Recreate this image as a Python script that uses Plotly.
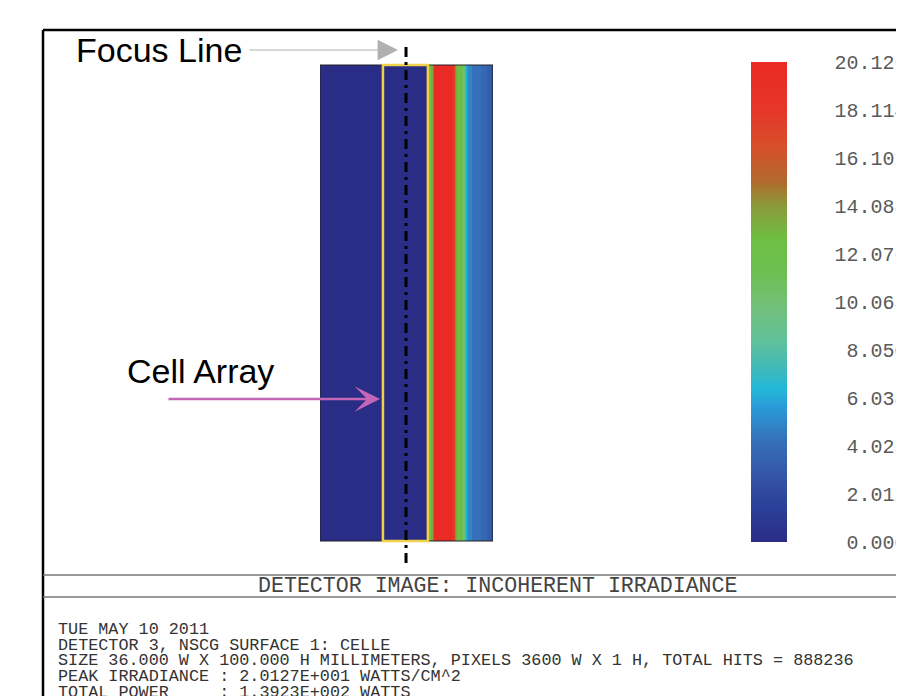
import plotly.graph_objects as go

# ---------------- data ----------------
# bin edges across the detector width (mm) and irradiance (W/cm^2) per bin
edges_mm = [-18.0, 4.37, 4.58, 4.78, 4.99, 5.20, 5.41, 5.62, 5.82, 6.03, 7.8,
            9.57, 9.78, 9.99, 10.19, 10.40, 10.61, 11.23, 11.86, 12.07, 12.27,
            12.48, 12.69, 12.90, 13.73, 15.40, 16.85, 17.48, 18.0]
irradiance = [0.0, 3.0, 9.0, 12.0, 12.5, 13.5, 15.5, 18.0, 19.5, 20.0, 20.1,
              19.0, 17.5, 16.0, 14.5, 13.5, 12.5, 11.5, 10.0, 8.5, 7.0, 6.3,
              5.6, 5.0, 4.2, 3.8, 3.2, 2.5]
height_edges_mm = [-50.0, 50.0]
peak_irradiance = 20.127
cell_array_mm = [-4.9, 4.45]
focus_line_mm = -0.1

cb_labels = ["0.000", "2.012", "4.025", "6.038", "8.050", "10.063", "12.076",
             "14.088", "16.101", "18.114", "20.126"]

title_text = "DETECTOR IMAGE: INCOHERENT IRRADIANCE"
info_lines = [
    "TUE MAY 10 2011",
    "DETECTOR 3, NSCG SURFACE 1: CELLE",
    "SIZE 36.000 W X 100.000 H MILLIMETERS, PIXELS 3600 W X 1 H, TOTAL HITS = 888236",
    "PEAK IRRADIANCE : 2.0127E+001 WATTS/CM^2",
    "TOTAL POWER     : 1.3923E+002 WATTS",
]

# ---------------- layout helpers ----------------
W, H = 904, 696
OFF = 8  # page body margin offset of the figure in the browser window
def px(x):
    return (x - OFF) / W
def py(y):
    return 1 - (y - OFF) / H

zemax = [
    [0.00, "#2a2d86"], [0.07, "#2b3f98"], [0.14, "#3556a8"], [0.21, "#3570b8"],
    [0.28, "#2a9ad8"], [0.32, "#22b8d8"], [0.35, "#3ab8c0"], [0.42, "#60c19a"],
    [0.49, "#72c07a"], [0.56, "#6cbf52"], [0.63, "#6ebf42"], [0.70, "#8a9a3a"],
    [0.75, "#b06a2c"], [0.82, "#d6502a"], [0.90, "#e6362a"], [1.00, "#ea2a25"],
]

mono = "Liberation Mono"

fig = go.Figure()
fig.add_trace(go.Heatmap(
    z=[irradiance], x=edges_mm, y=height_edges_mm,
    zmin=0, zmax=peak_irradiance, colorscale=zemax, hoverinfo="skip",
    colorbar=dict(
        x=px(751), xanchor="left", xpad=0, ypad=0,
        y=py(302), yanchor="middle", len=480, lenmode="pixels",
        thickness=36, thicknessmode="pixels", outlinewidth=0,
        tickmode="array", tickvals=[float(t) for t in cb_labels],
        ticktext=[t.rjust(6).replace(" ", "\u00a0") for t in cb_labels],
        ticks="outside", ticklen=44, tickcolor="rgba(0,0,0,0)",
        tickfont=dict(family=mono, size=20, color="#5a5a5a"),
    ),
))

# vertical mapping: heatmap spans pixel rows 65..541 (center 303)
mm_per_px = 100.0 / 476.0
y_top_px, y_bot_px, y_mid_px = 45, 563, 303
yrange = [-(y_bot_px - y_mid_px) * mm_per_px, (y_mid_px - y_top_px) * mm_per_px]

fig.update_layout(
    width=W, height=H, margin=dict(l=0, r=0, t=0, b=0),
    paper_bgcolor="white", plot_bgcolor="white", showlegend=False,
    xaxis=dict(domain=[px(320), px(493)], range=[-18, 18], visible=False, fixedrange=True),
    yaxis=dict(domain=[py(y_bot_px), py(y_top_px)], range=yrange, visible=False, fixedrange=True),
)

shapes = [
    # detector outline
    dict(type="rect", xref="x", yref="y", x0=edges_mm[0], x1=edges_mm[-1],
         y0=height_edges_mm[0], y1=height_edges_mm[1], line=dict(color="#222222", width=1)),
    # cell array box
    dict(type="rect", xref="x", yref="y", x0=cell_array_mm[0], x1=cell_array_mm[1],
         y0=height_edges_mm[0], y1=height_edges_mm[1], line=dict(color="#f0d24a", width=2.5)),
    # focus line
    dict(type="line", xref="x", yref="y", x0=focus_line_mm, x1=focus_line_mm,
         y0=yrange[0], y1=yrange[1], line=dict(color="black", width=3, dash="10px,5px,3px,5px")),
    # window frame
    dict(type="line", xref="paper", yref="paper", x0=px(43), x1=1, y0=py(30), y1=py(30),
         line=dict(color="black", width=2.5)),
    dict(type="line", xref="paper", yref="paper", x0=px(43), x1=px(43), y0=py(30), y1=0,
         line=dict(color="black", width=2.5)),
    dict(type="line", xref="paper", yref="paper", x0=px(43), x1=1, y0=py(575), y1=py(575),
         line=dict(color="#777777", width=1.5)),
    dict(type="line", xref="paper", yref="paper", x0=px(43), x1=1, y0=py(597), y1=py(597),
         line=dict(color="#777777", width=1.5)),
]
fig.update_layout(shapes=shapes)

ann = []
ann.append(dict(text="Focus Line", x=px(74), y=py(50), xref="paper", yref="paper",
                xanchor="left", yanchor="middle", showarrow=False,
                font=dict(family="Liberation Sans", size=34, color="black")))
ann.append(dict(text="", x=px(398), y=py(50), xref="paper", yref="paper",
                ax=248 - 398, ay=0, axref="pixel", ayref="pixel", showarrow=True,
                arrowhead=2, arrowsize=3.4, arrowwidth=1.2, arrowcolor="#b0b0b0"))
ann.append(dict(text="Cell Array", x=px(125), y=py(371), xref="paper", yref="paper",
                xanchor="left", yanchor="middle", showarrow=False,
                font=dict(family="Liberation Sans", size=34, color="black")))
ann.append(dict(text="", x=px(380), y=py(399), xref="paper", yref="paper",
                ax=167 - 380, ay=0, axref="pixel", ayref="pixel", showarrow=True,
                arrowhead=3, arrowsize=1.7, arrowwidth=2.5, arrowcolor="#c466b6"))
ann.append(dict(text=title_text, x=px(497), y=py(586), xref="paper", yref="paper",
                xanchor="center", yanchor="middle", showarrow=False,
                font=dict(family=mono, size=21.6, color="#444444")))
line_y = [629, 645, 660, 676, 692]
for yy, t in zip(line_y, info_lines):
    ann.append(dict(text=t.replace(" ", "\u00a0"), x=px(56), y=py(yy), xref="paper", yref="paper",
                    xanchor="left", yanchor="middle", showarrow=False,
                    font=dict(family=mono, size=16.8, color="#333333")))
fig.update_layout(annotations=ann)

fig.write_html("out.html", config={"displayModeBar": False})
